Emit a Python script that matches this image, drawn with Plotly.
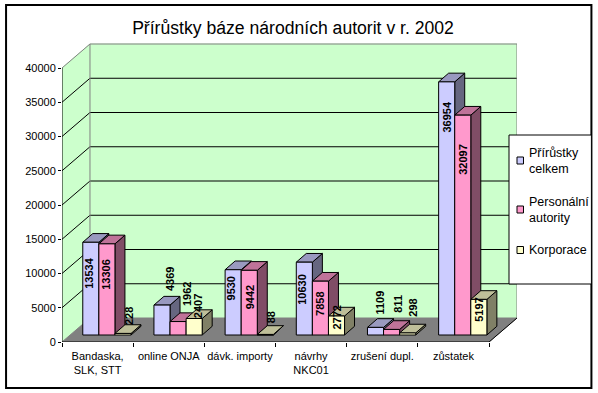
import plotly.graph_objects as go

# ---- data ----
categories = ["Bandaska,<br>SLK, STT", "online ONJA", "dávk. importy", "návrhy<br>NKC01", "zrušení dupl.", "zůstatek"]
prirustky = [13534, 4369, 9530, 10630, 1109, 36954]
personalni = [13306, 1962, 9442, 7858, 811, 32097]
korporace = [228, 2407, 88, 2772, 298, 5197]
series_names = ["Přírůstky<br>celkem", "Personální<br>autority", "Korporace"]
y_ticks = [0, 5000, 10000, 15000, 20000, 25000, 30000, 35000, 40000]
title_text = "Přírůstky báze národních autorit v r. 2002"

# ---- style / placement ----
FONT = "Liberation Sans"
front_colors = ["#CCCCFF", "#FF99CC", "#FFFFCC"]
top_colors = ["#9999BF", "#BF7399", "#BFBF99"]
side_colors = ["#666680", "#804D66", "#808066"]
WALL = "#CCFFCC"
FLOOR = "#808080"
EDGE = "#808080"

# plot-area pixels
L, R, T, B = 61.5, 517.0, 43.0, 342.0
PX_X = 71.25          # pixels per category
PX_Y = 34.25 / 5000   # pixels per unit
WALL_DX = 28 / PX_X
WALL_DY = 24 / PX_Y
BAR_START = 20.8 / PX_X
BAR_W = 16.1 / PX_X
BAR_DX = 10 / PX_X
BAR_DY = 8.7 / PX_Y
BAR_BASE = 7 / PX_Y
N = len(categories)

# label offset relative to the top front edge of each bar (px: right, up)
label_dx = [[-2, 8, -1.7, -2, 4, 0], [-1, 9, 1, 0, 6, 0], [6, 4, 6, 1, 5, 0]]
label_dy = [[-30.7, 26, -18.3, -27.3, 24.4, -35],
            [-30, 27.6, -26.7, -22.3, 25.4, -43.9],
            [17.4, 12.5, 17.4, -2, 25, -10.6]]

fig = go.Figure()


def poly(xs, ys, fill, line="black", width=1):
    fig.add_trace(go.Scatter(x=xs, y=ys, mode="lines", fill="toself", fillcolor=fill,
                             line=dict(color=line, width=width), hoverinfo="skip", showlegend=False))


def seg(xs, ys, color="black", width=1):
    fig.add_trace(go.Scatter(x=xs, y=ys, mode="lines", line=dict(color=color, width=width),
                             hoverinfo="skip", showlegend=False))


top = y_ticks[-1]
# walls and floor
poly([0, WALL_DX, WALL_DX, 0, 0], [0, WALL_DY, top + WALL_DY, top, 0], WALL, WALL)
poly([WALL_DX, N + WALL_DX, N + WALL_DX, WALL_DX, WALL_DX],
     [WALL_DY, WALL_DY, top + WALL_DY, top + WALL_DY, WALL_DY], WALL, WALL)
poly([0, N, N + WALL_DX, WALL_DX, 0], [0, 0, WALL_DY, WALL_DY, 0], FLOOR, FLOOR)
for v in y_ticks[1:-1]:
    seg([0, WALL_DX, N + WALL_DX], [v, v + WALL_DY, v + WALL_DY])
seg([0, WALL_DX, N + WALL_DX, N + WALL_DX], [top, top + WALL_DY, top + WALL_DY, WALL_DY], EDGE)
seg([WALL_DX, WALL_DX], [WALL_DY, top + WALL_DY], EDGE)
seg([0, 0], [0, top])
seg([0, N, N + WALL_DX], [0, 0, WALL_DY])

# bars
all_series = [prirustky, personalni, korporace]
for c in range(N):
    for s, values in enumerate(all_series):
        x0 = c + BAR_START + s * BAR_W
        x1 = x0 + BAR_W
        y0 = BAR_BASE
        y1 = BAR_BASE + values[c]
        poly([x1, x1 + BAR_DX, x1 + BAR_DX, x1, x1],
             [y0, y0 + BAR_DY, y1 + BAR_DY, y1, y0], side_colors[s])
        poly([x0, x1, x1 + BAR_DX, x0 + BAR_DX, x0],
             [y1, y1, y1 + BAR_DY, y1 + BAR_DY, y1], top_colors[s])
        poly([x0, x1, x1, x0, x0], [y0, y0, y1, y1, y0], front_colors[s])

annotations = []
for c in range(N):
    for s, values in enumerate(all_series):
        annotations.append(dict(
            x=c + BAR_START + (s + 0.5) * BAR_W, y=BAR_BASE + values[c], xref="x", yref="y",
            text=str(values[c]), showarrow=False, textangle=-90,
            xshift=label_dx[s][c], yshift=label_dy[s][c],
            font=dict(family=FONT, size=11, color="black", weight="bold"),
        ))


def px(x):
    return (x - L) / (R - L)


def py(y):
    return (B - y) / (B - T)


shapes = [
    dict(type="rect", xref="paper", yref="paper", x0=px(5.5), x1=px(591.5), y0=py(388), y1=py(5),
         line=dict(color="black", width=2), fillcolor="rgba(0,0,0,0)", layer="above"),
    dict(type="rect", xref="paper", yref="paper", x0=px(509), x1=px(591.5), y0=py(284), y1=py(135),
         line=dict(color="black", width=1), fillcolor="white", layer="above"),
]
legend_y = [160.5, 209.5, 250]
for name, color, ly in zip(series_names, front_colors, legend_y):
    shapes.append(dict(type="rect", xref="paper", yref="paper", x0=px(517), x1=px(523.5), y0=py(ly + 3.5), y1=py(ly - 3.5),
                       line=dict(color="black", width=1), fillcolor=color, layer="above"))
    annotations.append(dict(x=px(527.5), y=py(ly), xref="paper", yref="paper", text=name, showarrow=False,
                            xanchor="left", yanchor="middle", align="left",
                            font=dict(family=FONT, size=12.5, color="black")))

y_scale = (B - T) / PX_Y
fig.update_layout(
    width=598, height=393, autosize=False,
    margin=dict(l=L, r=598 - R, t=T, b=393 - B, pad=0),
    paper_bgcolor="white", plot_bgcolor="white", showlegend=False,
    title=dict(text=title_text, x=293 / 598, xanchor="center", y=1 - 28 / 393, yanchor="middle",
               font=dict(family=FONT, size=17.6, color="black")),
    xaxis=dict(range=[0, (R - L) / PX_X], tickmode="array", tickvals=[i + 0.5 for i in range(N)], ticktext=categories,
               showgrid=False, zeroline=False, ticks="", showline=False, ticklabelstandoff=6,
               tickfont=dict(family=FONT, size=11, color="black"), fixedrange=True,
               minor=dict(tickmode="array", tickvals=list(range(N + 1)), ticks="outside", ticklen=4,
                          tickcolor="black", tickwidth=1, showgrid=False)),
    yaxis=dict(range=[0, y_scale], tickmode="array", tickvals=y_ticks, ticktext=[str(v) for v in y_ticks],
               showgrid=False, zeroline=False, ticks="outside", ticklen=3, tickcolor="black", tickwidth=1,
               showline=False, tickfont=dict(family=FONT, size=11, color="black"), fixedrange=True),
    shapes=shapes, annotations=annotations,
)
fig.write_html("out.html", config=dict(displayModeBar=False), post_script="document.body.style.margin='0';")
